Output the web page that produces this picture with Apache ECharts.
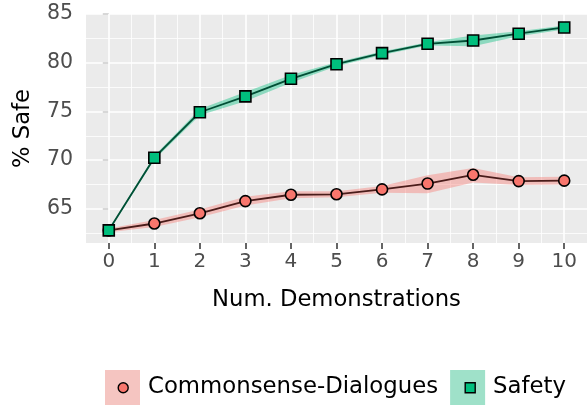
<!DOCTYPE html>
<html>
<head>
<meta charset="utf-8">
<script src="https://cdn.jsdelivr.net/npm/echarts@6/dist/echarts.min.js"></script>
<style>
  html, body { margin: 0; padding: 0; background: #fff; }
  #chart { width: 588px; height: 405px; }
</style>
</head>
<body>
<div id="chart"></div>
<script>
// data
const numDemos = [0, 1, 2, 3, 4, 5, 6, 7, 8, 9, 10];
const cdMean = [62.8, 63.5, 64.55, 65.8, 66.45, 66.5, 67.0, 67.6, 68.5, 67.85, 67.9];
const cdLow = [62.6, 63.15, 64.15, 65.35, 66.1, 66.2, 66.65, 66.6, 67.7, 67.45, 67.5];
const cdHigh = [63.0, 63.85, 64.95, 66.25, 66.8, 66.8, 67.35, 68.45, 69.2, 68.25, 68.3];
const safetyMean = [62.8, 70.25, 74.92, 76.55, 78.35, 79.85, 80.98, 81.94, 82.28, 82.98, 83.62];
const safetyLow = [62.7, 70.05, 74.6, 76.05, 77.95, 79.65, 80.8, 81.78, 81.7, 82.72, 83.42];
const safetyHigh = [62.9, 70.45, 75.25, 77.0, 78.75, 80.05, 81.16, 82.1, 82.8, 83.24, 83.82];

const xTicks = [0, 1, 2, 3, 4, 5, 6, 7, 8, 9, 10];
const xMinor = [0.5, 1.5, 2.5, 3.5, 4.5, 5.5, 6.5, 7.5, 8.5, 9.5];
const yTicks = [65, 70, 75, 80, 85];
const yMinor = [62.5, 67.5, 72.5, 77.5, 82.5];

const cdName = "Commonsense-Dialogues";
const safetyName = "Safety";

const pair = (ys) => numDemos.map((x, i) => [x, ys[i]]);
const bandData = (lo, hi) => numDemos.map((x, i) => [x, lo[i], hi[i]]);

const chart = echarts.init(document.getElementById("chart"));

// grid lines, ggplot style
const gridLines = [];
xTicks.forEach(v => gridLines.push({ xAxis: v, lineStyle: { width: 1.6 } }));
xMinor.forEach(v => gridLines.push({ xAxis: v, lineStyle: { width: 0.8 } }));
yTicks.forEach(v => gridLines.push({ yAxis: v, lineStyle: { width: 1.6 } }));
yMinor.forEach(v => gridLines.push({ yAxis: v, lineStyle: { width: 0.8 } }));

// ribbon: one polygon through lower then upper bounds
function ribbon(color) {
  return function (params, api) {
    if (params.dataIndex !== 0) return null;
    const lower = [], upper = [];
    for (let i = 0; i < numDemos.length; i++) {
      lower.push(api.coord([api.value(0, i), api.value(1, i)]));
      upper.push(api.coord([api.value(0, i), api.value(2, i)]));
    }
    return {
      type: "polygon",
      shape: { points: lower.concat(upper.reverse()) },
      style: { fill: color, opacity: 0.4 }
    };
  };
}

const option = {
  animation: false,
  textStyle: { fontFamily: "DejaVu Sans" },
  grid: {
    left: 86, right: 1, top: 14, bottom: 162,
    show: true, backgroundColor: "#ebebeb", borderWidth: 0,
    outerBoundsMode: "none"
  },
  xAxis: {
    type: "value",
    min: -0.5,
    max: 10.5,
    name: "Num. Demonstrations",
    nameLocation: "middle",
    nameGap: 46,
    nameTextStyle: { fontSize: 22.7, color: "#000" },
    axisLine: { show: false },
    axisTick: { show: true, length: 6, customValues: xTicks, lineStyle: { color: "#333", width: 1.5 } },
    axisLabel: { customValues: xTicks, fontSize: 20, color: "#4d4d4d", margin: 9 },
    splitLine: { show: false }
  },
  yAxis: {
    type: "value",
    min: 61.5,
    max: 85,
    name: "% Safe",
    nameLocation: "middle",
    nameGap: 51,
    nameRotate: 90,
    nameTextStyle: { fontSize: 22.7, color: "#000" },
    axisLine: { show: false },
    axisTick: { show: true, length: 6, customValues: yTicks, lineStyle: { color: "#333", width: 1.5 } },
    axisLabel: { customValues: yTicks, fontSize: 20.5, color: "#4d4d4d", margin: 13 },
    splitLine: { show: false }
  },
  legend: {
    left: 105,
    top: 370,
    padding: 0,
    itemWidth: 35,
    itemHeight: 35,
    itemGap: 12,
    textStyle: { fontSize: 22.8, color: "#000", padding: [0, 0, 0, 3] },
    data: [
      { name: cdName, icon: "rect", itemStyle: { color: "#f5c5c1", borderWidth: 0 } },
      { name: safetyName, icon: "rect", itemStyle: { color: "#9fe1c9", borderWidth: 0 } }
    ]
  },
  graphic: [
    { type: "circle", left: 117.5, top: 382, z: 100,
      shape: { r: 5 }, style: { fill: "#F8766D", stroke: "#000", lineWidth: 1.4 } },
    { type: "rect", left: 464.5, top: 382, z: 100,
      shape: { width: 10, height: 10 }, style: { fill: "#00BF7D", stroke: "#000", lineWidth: 1.4 } }
  ],
  series: [
    {
      name: "grid",
      type: "line",
      data: [],
      z: 1,
      silent: true,
      markLine: {
        z: 1,
        silent: true,
        symbol: ["none", "none"],
        label: { show: false },
        animation: false,
        lineStyle: { color: "#ffffff", type: "solid" },
        data: gridLines
      }
    },
    {
      name: "cdBand", type: "custom", data: bandData(cdLow, cdHigh),
      renderItem: ribbon("#F8766D"), z: 2, silent: true, clip: true,
      encode: { x: 0, y: [1, 2] }
    },
    {
      name: "safetyBand", type: "custom", data: bandData(safetyLow, safetyHigh),
      renderItem: ribbon("#00BF7D"), z: 2, silent: true, clip: true,
      encode: { x: 0, y: [1, 2] }
    },
    {
      name: cdName, type: "line", data: pair(cdMean), z: 3,
      symbol: "circle", symbolSize: 11, showAllSymbol: true,
      lineStyle: { color: "#4a1c1a", width: 1.8 },
      itemStyle: { color: "#F8766D", borderColor: "#000", borderWidth: 1.6 }
    },
    {
      name: safetyName, type: "line", data: pair(safetyMean), z: 4,
      symbol: "rect", symbolSize: 11, showAllSymbol: true,
      lineStyle: { color: "#004f35", width: 1.8 },
      itemStyle: { color: "#00BF7D", borderColor: "#000", borderWidth: 1.6 }
    }
  ]
};

chart.setOption(option);
</script>
</body>
</html>
